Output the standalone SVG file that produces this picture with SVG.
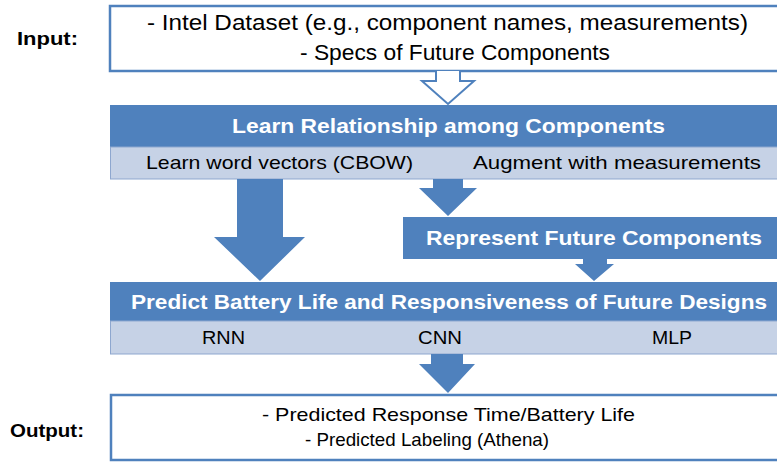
<svg xmlns="http://www.w3.org/2000/svg" width="777" height="462" viewBox="0 0 777 462">
<style>
text{font-family:"Liberation Sans","Noto Sans",Arial,sans-serif}
.lbl{font-size:19px;font-weight:bold;fill:#000}
.box{fill:#fff;stroke:#4F81BD;stroke-width:2.5}
.dark{fill:#4F81BD}
.light{fill:#C6D2E6;stroke:#8EA7CF;stroke-width:1}
.t{font-size:22px;fill:#000}
.w{font-size:21px;font-weight:bold;fill:#fff}
.s{font-size:19px;fill:#000}
.arr{fill:#4F81BD}
.open{fill:#fff;stroke:#4F81BD;stroke-width:2}
</style>
<rect width="777" height="462" fill="#fff"/>
<text class="lbl" x="17" y="45" textLength="61" lengthAdjust="spacingAndGlyphs">Input:</text>
<text class="lbl" x="10" y="437" textLength="74" lengthAdjust="spacingAndGlyphs">Output:</text>

<g id="input">
<rect class="box" x="110" y="6" width="680" height="65"/>
<text class="t" x="147" y="30" textLength="601" lengthAdjust="spacingAndGlyphs">- Intel Dataset (e.g., component names, measurements)</text>
<text class="t" x="300" y="60" textLength="310" lengthAdjust="spacingAndGlyphs">- Specs of Future Components</text>
</g>

<g id="learn">
<rect class="dark" x="110" y="105" width="680" height="42"/>
<rect class="light" x="110.5" y="147" width="680" height="32"/>
<text class="w" x="232" y="133" textLength="433" lengthAdjust="spacingAndGlyphs">Learn Relationship among Components</text>
<text class="s" x="146" y="169" textLength="267" lengthAdjust="spacingAndGlyphs">Learn word vectors (CBOW)</text>
<text class="s" x="473" y="169" textLength="288" lengthAdjust="spacingAndGlyphs">Augment with measurements</text>
</g>

<g id="represent">
<rect class="dark" x="403" y="217" width="390" height="42"/>
<text class="w" x="426" y="245" textLength="336" lengthAdjust="spacingAndGlyphs">Represent Future Components</text>
</g>

<g id="predict">
<rect class="dark" x="110" y="282" width="680" height="39"/>
<rect class="light" x="110.5" y="321" width="680" height="33"/>
<text class="w" x="131" y="309" textLength="636" lengthAdjust="spacingAndGlyphs">Predict Battery Life and Responsiveness of Future Designs</text>
<text class="s" x="202" y="344" textLength="43" lengthAdjust="spacingAndGlyphs">RNN</text>
<text class="s" x="418" y="344" textLength="44" lengthAdjust="spacingAndGlyphs">CNN</text>
<text class="s" x="652" y="344" textLength="40" lengthAdjust="spacingAndGlyphs">MLP</text>
</g>

<g id="output">
<rect class="box" x="111" y="395" width="680" height="65"/>
<text class="s" x="262" y="421" textLength="373" lengthAdjust="spacingAndGlyphs">- Predicted Response Time/Battery Life</text>
<text class="s" x="305" y="446" textLength="244" lengthAdjust="spacingAndGlyphs">- Predicted Labeling (Athena)</text>
</g>

<g id="connectors">
<path class="open" d="M436,71 V81 H422 L448,104 L474,81 H460 V71"/>
<path class="arr" d="M237,179 H283 V237 H305 L260,281 L214,237 H237 Z"/>
<path class="arr" d="M433,179 H463 V188 H477 L448,216 L419,188 H433 Z"/>
<path class="arr" d="M583,259 H607 V264 H614 L594,281 L575,264 H583 Z"/>
<path class="arr" d="M431,354 H463 V364 H475 L448,393 L419,364 H431 Z"/>
</g>
</svg>
